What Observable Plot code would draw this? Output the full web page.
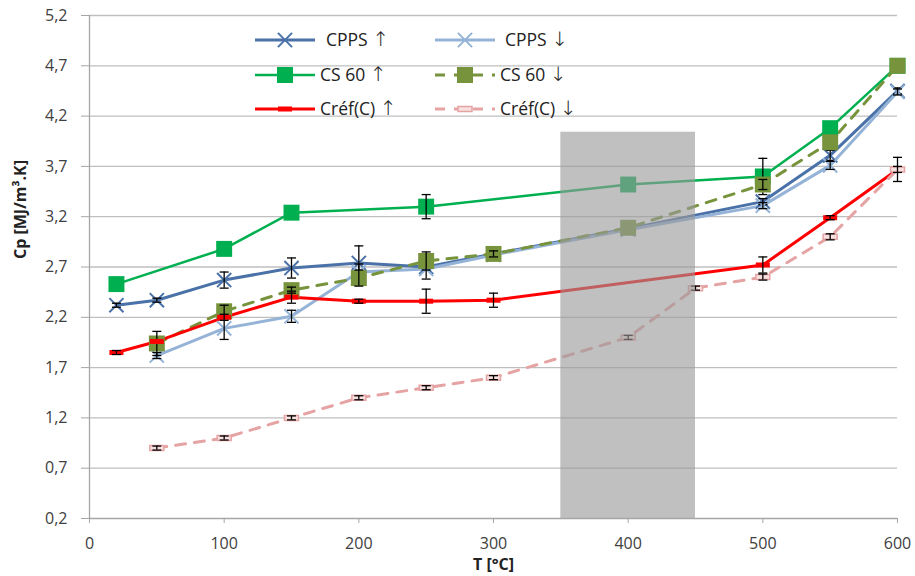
<!DOCTYPE html>
<html><head><meta charset="utf-8">
<script src="https://cdn.jsdelivr.net/npm/d3@7"></script>
<script src="https://cdn.jsdelivr.net/npm/@observablehq/plot@0.6"></script>
<style>
body{margin:0;background:#fff}
#chart{position:relative;width:915px;height:576px}
</style>
</head><body><div id="chart"></div>
<script>
// ---- data ----
const xTicks = [0,100,200,300,400,500,600];
const yTicks = [0.2,0.7,1.2,1.7,2.2,2.7,3.2,3.7,4.2,4.7,5.2];

const cppsUpT   = [20,50,100,150,200,250,300,400,500,550,600];
const cppsUp    = [2.32,2.37,2.57,2.69,2.74,2.70,2.83,3.08,3.35,3.81,4.45];
const cppsUpErr = [0.02,0.02,0.08,0.10,0.17,0.00,0.00,0.00,0.03,0.05,0.03];

const cppsDnT   = [50,100,150,200,250,300,400,500,550,600];
const cppsDn    = [1.82,2.09,2.21,2.65,2.68,2.82,3.07,3.31,3.71,4.44];
const cppsDnErr = [0.03,0.11,0.06,0.08,0.10,0.03,0.00,0.03,0.04,0.03];

const cs60UpT   = [20,100,150,250,400,500,550,600];
const cs60Up    = [2.53,2.88,3.24,3.30,3.52,3.60,4.08,4.70];
const cs60UpErr = [0,0,0,0.12,0,0.18,0,0];

const cs60DnT   = [50,100,150,200,250,300,400,500,550,600];
const cs60Dn    = [1.94,2.26,2.47,2.59,2.76,2.83,3.09,3.52,3.94,4.70];
const cs60DnErr = [0.12,0.06,0.03,0.08,0.09,0.03,0,0.05,0,0];

const crefUpT   = [20,50,100,150,200,250,300,500,550,600];
const crefUp    = [1.85,1.96,2.20,2.40,2.36,2.36,2.37,2.72,3.19,3.67];
const crefUpErr = [0.02,0.00,0.03,0.06,0.02,0.12,0.07,0.08,0.02,0.12];

const crefDnT   = [50,100,150,200,250,300,400,450,500,550,600];
const crefDn    = [0.90,1.00,1.20,1.40,1.50,1.60,2.00,2.49,2.60,3.00,3.67];
const crefDnErr = [0.02,0.02,0.02,0.02,0.02,0.02,0.02,0.02,0.03,0.03,0.03];

const shadeX = [350,450];
const shadeY = [0.2,4.04];

// ---- styling ----
const capSym  = {draw(ctx){ctx.moveTo(-4.5,0);ctx.lineTo(4.5,0);}};
const barSym  = {draw(ctx){ctx.rect(-7,-2.5,14,5);}};

const series = [
  {label:"CPPS",    arrow:"↑", t:cppsUpT, v:cppsUp, e:cppsUpErr, color:"#4a72a8", width:3,   dash:null,  kind:"x"},
  {label:"CPPS",    arrow:"↓", t:cppsDnT, v:cppsDn, e:cppsDnErr, color:"#95b3d7", width:3,   dash:null,  kind:"x"},
  {label:"CS 60",   arrow:"↑", t:cs60UpT, v:cs60Up, e:cs60UpErr, color:"#00b050", width:2.5, dash:null,  kind:"sq"},
  {label:"CS 60",   arrow:"↓", t:cs60DnT, v:cs60Dn, e:cs60DnErr, color:"#77933c", width:3,   dash:"10,9",kind:"sq"},
  {label:"Créf(C)", arrow:"↑", t:crefUpT, v:crefUp, e:crefUpErr, color:"#ff0000", width:3,   dash:null,  kind:"bar"},
  {label:"Créf(C)", arrow:"↓", t:crefDnT, v:crefDn, e:crefDnErr, color:"#e6a3a3", width:3,   dash:"10,9",kind:"barO"}
];
const rowsOf = s => s.t.map((t,i)=>({t, v:s.v[i], e:s.e[i]}));

const marks = [];
marks.push(Plot.ruleY(yTicks.slice(1), {stroke:"#bfbfbf", strokeWidth:1.3}));
for (const s of series) {
  marks.push(Plot.line(rowsOf(s), {x:"t", y:"v", stroke:s.color, strokeWidth:s.width, strokeDasharray:s.dash ?? undefined}));
}
for (const s of series) {
  const rows = rowsOf(s);
  if (s.kind==="x") marks.push(Plot.dot(rows,{x:"t",y:"v",symbol:"times",r:6.5,stroke:s.color,strokeWidth:2}));
  if (s.kind==="sq") marks.push(Plot.dot(rows,{x:"t",y:"v",symbol:"square",r:9,fill:s.color,stroke:"none"}));
  if (s.kind==="bar") marks.push(Plot.dot(rows,{x:"t",y:"v",symbol:barSym,fill:s.color,stroke:"none"}));
  if (s.kind==="barO") marks.push(Plot.dot(rows,{x:"t",y:"v",symbol:barSym,fill:"#f8e0e0",stroke:s.color,strokeWidth:1.5}));
  const er = rows.filter(d=>d.e>0);
  marks.push(Plot.ruleX(er,{x:"t",y1:d=>d.v-d.e,y2:d=>d.v+d.e,stroke:"#000",strokeWidth:1.3}));
  marks.push(Plot.dot(er,{x:"t",y:d=>d.v+d.e,symbol:capSym,stroke:"#000",strokeWidth:1.3}));
  marks.push(Plot.dot(er,{x:"t",y:d=>d.v-d.e,symbol:capSym,stroke:"#000",strokeWidth:1.3}));
}
marks.push(Plot.rect([{x1:shadeX[0],x2:shadeX[1],y1:shadeY[0],y2:shadeY[1]}],{x1:"x1",x2:"x2",y1:"y1",y2:"y2",fill:"#9a9a9a",fillOpacity:0.62}));
marks.push(Plot.ruleY([0.2],{stroke:"#a6a6a6",strokeWidth:1.3}));
marks.push(Plot.ruleX([0],{y1:0.2,y2:5.2,stroke:"#a6a6a6",strokeWidth:1.3}));
marks.push(Plot.axisY(yTicks,{tickFormat:d=>d.toFixed(1).replace(".",","),tickSize:8,tickPadding:14,stroke:"#a6a6a6",fill:"#404040",fontSize:16,label:null}));
marks.push(Plot.axisX(xTicks,{tickSize:5,tickPadding:14,stroke:"#a6a6a6",fill:"#404040",fontSize:16,label:null}));
marks.push(Plot.text(["Cp [MJ/m³.K]"],{frameAnchor:"left",dx:-69,dy:-8,rotate:-90,fontWeight:"bold",fontSize:16,fill:"#222"}));
marks.push(Plot.text(["T [°C]"],{frameAnchor:"bottom",dy:51,fontWeight:"bold",fontSize:16,fill:"#222"}));

const chart = Plot.plot({
  width:915, height:576,
  marginLeft:89, marginRight:18, marginTop:15, marginBottom:58,
  x:{domain:[0,600]}, y:{domain:[0.2,5.2]},
  style:{fontFamily:"'Open Sans', sans-serif", fontSize:"16px", background:"white", color:"#404040"},
  marks
});
document.getElementById("chart").appendChild(chart);

// legend overlay
const svg = d3.select(chart);
const g = svg.append("g").attr("font-family","'Open Sans', sans-serif").attr("font-size",17.5).attr("fill","#222").attr("text-anchor","start");
const rowsY = [40,75,109], lineX = [255,435], textX = [[326,320,320],[505,500,500]];
series.forEach((s,i)=>{
  const col = i%2, row = Math.floor(i/2);
  const y = rowsY[row], x0 = lineX[col];
  g.append("line").attr("x1",x0).attr("x2",x0+60).attr("y1",y).attr("y2",y)
    .attr("stroke",s.color).attr("stroke-width",s.width).attr("stroke-dasharray",s.dash||null);
  const cx = x0+30;
  if (s.kind==="x") g.append("path").attr("d",d3.symbol(d3.symbolTimes,133)()).attr("transform",`translate(${cx},${y})`).attr("stroke",s.color).attr("stroke-width",2).attr("fill","none");
  if (s.kind==="sq") g.append("rect").attr("x",cx-8).attr("y",y-8).attr("width",16).attr("height",16).attr("fill",s.color);
  if (s.kind==="bar") g.append("rect").attr("x",cx-7).attr("y",y-2.5).attr("width",14).attr("height",5).attr("fill",s.color);
  if (s.kind==="barO") g.append("rect").attr("x",cx-7).attr("y",y-2.5).attr("width",14).attr("height",5).attr("fill","#f8e0e0").attr("stroke",s.color).attr("stroke-width",1.5);
  const t = g.append("text").attr("x",textX[col][row]).attr("y",y).attr("dy","0.35em");
  t.append("tspan").text(s.label + " ");
  t.append("tspan").attr("font-family","'DejaVu Sans', sans-serif").attr("font-size",20).attr("font-weight","300").text(s.arrow);
});
</script>
</body></html>
